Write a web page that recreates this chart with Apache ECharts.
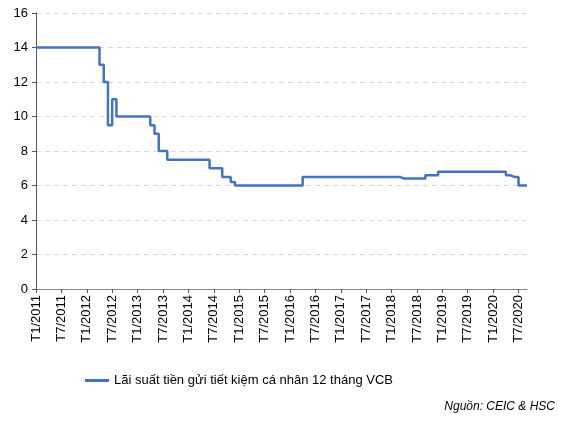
<!DOCTYPE html>
<html><head><meta charset="utf-8">
<script src="https://cdn.jsdelivr.net/npm/echarts@6/dist/echarts.min.js"></script>
<style>html,body{margin:0;padding:0;background:#fff}#c{width:587px;height:423px}</style>
</head><body><div id="c"></div>
<script>
const startYear = 2011, months = 117;
const categories = [];
for (let i = 0; i < months; i++) categories.push('T' + (i % 12 + 1) + '/' + (startYear + Math.floor(i / 12)));
const rateValues = [
14,14,14,14,14,14,14,14,14,14,14,14,14,14,14, // 0-14
13,12,9.5,11, // 15-18
10,10,10,10,10,10,10,10, // 19-26
9.5,9,8,8, // 27-30
7.5,7.5,7.5,7.5,7.5,7.5,7.5,7.5,7.5,7.5, // 31-40
7,7,7,6.5,6.5,6.2, // 41-46
6,6,6,6,6,6,6,6,6,6,6,6,6,6,6,6, // 47-62
6.5,6.5,6.5,6.5,6.5,6.5,6.5,6.5,6.5,6.5,6.5,6.5,6.5,6.5,6.5,6.5,6.5,6.5,6.5,6.5,6.5,6.5,6.5, // 63-85
6.4,6.4,6.4,6.4,6.4,6.4, // 86-91
6.6,6.6,6.6, // 92-94
6.8,6.8,6.8,6.8,6.8,6.8,6.8,6.8,6.8,6.8,6.8,6.8,6.8,6.8,6.8,6.8, // 95-110
6.6,6.5,6.5,6,6,6 // 111-116
];
const seriesName = 'Lãi suất tiền gửi tiết kiệm cá nhân 12 tháng VCB';
const sourceText = 'Nguồn: CEIC & HSC';
const chart = echarts.init(document.getElementById('c'));
chart.setOption({
  animation: false,
  textStyle: {fontFamily: 'Liberation Sans, Arial'},
  grid: {left: 36, right: 60, top: 13, bottom: 134},
  xAxis: {
    type: 'category', data: categories, boundaryGap: false,
    axisLine: {lineStyle: {color: '#888'}},
    axisTick: {interval: 5, length: 4, lineStyle: {color: '#555'}},
    axisLabel: {interval: 5, rotate: 90, color: '#000', fontSize: 13, margin: 6}
  },
  yAxis: {
    type: 'value', min: 0, max: 16, interval: 2,
    axisLine: {show: true, lineStyle: {color: '#555'}},
    axisTick: {show: true, length: 4, lineStyle: {color: '#555'}},
    axisLabel: {color: '#000', fontSize: 13, margin: 8},
    splitLine: {lineStyle: {type: [5, 4], color: '#d9d9d9'}}
  },
  legend: {
    left: 80, top: 369, itemWidth: 24, itemHeight: 3, icon: 'rect', itemGap: 6,
    textStyle: {color: '#000', fontSize: 13}
  },
  graphic: [{type: 'text', right: 32, top: 401,
    style: {text: sourceText, fontStyle: 'italic', fontSize: 12, fill: '#000', fontFamily: 'Liberation Sans, Arial'}}],
  series: [{
    name: seriesName, type: 'line', step: 'end', data: rateValues,
    symbol: 'none', lineStyle: {color: '#4472C4', width: 2.5}, itemStyle: {color: '#4472C4'}
  }]
});
</script></body></html>
